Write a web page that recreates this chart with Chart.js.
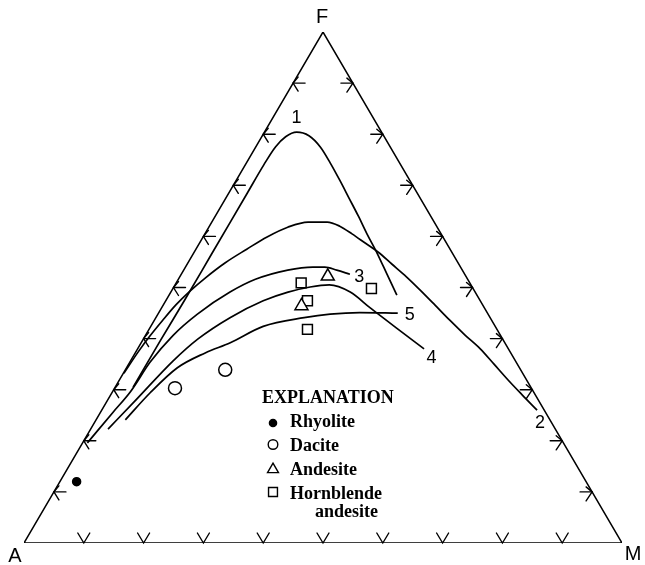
<!DOCTYPE html>
<html>
<head>
<meta charset="utf-8">
<script src="https://cdn.jsdelivr.net/npm/chart.js@4.4.1/dist/chart.umd.min.js"></script>
<style>
  html, body { margin: 0; padding: 0; background: #fff; }
  #afm { display: block; }
</style>
</head>
<body>
<canvas id="afm" width="645" height="565"></canvas>
<script>
// AFM diagram. Every composition is written as [F, M] in percent; A = 100 - F - M.

const vertexLabels = ['A', 'F', 'M'];
const gridSteps = [10, 20, 30, 40, 50, 60, 70, 80, 90];

// Differentiation trends
const trend1 = [[30.5,3.0],[39.7,3.0],[47.6,3.1],[56.4,3.1],[62.8,3.1],[68.5,3.1],[74.0,3.1],[77.5,3.3],[79.5,4.0],[80.4,5.4],[79.7,7.8],[77.5,10.8],[74.4,14.0],[71.0,17.3],[67.5,20.6],[64.0,23.9],[60.5,27.1],[56.6,30.8],[52.6,34.4],[48.5,38.1]];
const trend2 = [[33.2,0.1],[37.4,0.4],[40.5,0.8],[43.6,1.4],[46.6,2.1],[49.3,3.1],[51.9,4.4],[54.8,6.2],[57.5,8.5],[59.9,10.7],[61.8,13.2],[62.8,16.1],[62.8,19.3],[62.0,21.8],[60.5,24.6],[58.7,27.7],[56.9,30.8],[54.6,34.2],[52.1,37.9],[49.5,41.5],[46.6,45.4],[43.6,49.4],[40.7,53.4],[38.0,57.3],[35.0,61.1],[31.9,65.0],[29.0,68.8],[26.0,72.8]];
const trend3 = [[19.6,0.8],[25.6,2.1],[29.6,3.0],[35.4,3.4],[40.6,4.6],[44.8,6.6],[49.1,9.9],[51.6,12.9],[53.4,17.4],[54.0,21.3],[54.0,23.3],[53.4,25.6],[52.6,28.2]];
const trend4 = [[22.3,2.9],[27.9,4.7],[35.6,7.1],[39.9,9.1],[44.1,12.4],[47.4,16.3],[49.1,19.6],[50.1,22.8],[50.5,25.8],[49.1,30.0],[46.0,34.9],[42.1,41.2],[38.0,47.9]];
const trend5 = [[24.1,4.9],[29.4,6.4],[34.3,8.5],[37.2,11.7],[39.2,14.9],[42.4,18.8],[44.1,24.8],[44.8,28.8],[45.1,33.6],[45.0,40.0]];
const trendNames = ['1', '2', '3', '4', '5'];

// Analysed samples
const rhyolite = [[12.0, 2.8]];
const dacite = [[30.3, 10.1], [33.9, 16.7]];
const andesite = [[52.2, 24.7], [46.4, 23.2]];
const hornblendeAndesite = [[50.9, 20.9], [49.8, 33.2], [47.4, 23.7], [41.8, 26.5]];
const legendLabels = ['Rhyolite', 'Dacite', 'Andesite', 'Hornblende', 'andesite'];

// Where each trend number is written, as [F, M]
const trendLabelAt = [[83.1, 4.0], [23.4, 74.6], [52.1, 30.0], [36.1, 50.1], [44.6, 42.2]];

const H = Math.sqrt(3) / 2;
const toXY = ([F, M]) => ({ x: M + F / 2, y: F * H });

const outline = [[0, 0], [0, 100], [100, 0], [0, 0]].map(toXY);

const curve = (pts) => ({
  data: pts.map(toXY), showLine: true, borderColor: '#000', borderWidth: 1.7,
  pointRadius: 0, cubicInterpolationMode: 'monotone', fill: false, order: 5
});
const markers = (pts, style, radius, fill) => ({
  data: pts.map(toXY), showLine: false, pointStyle: style, pointRadius: radius,
  pointBackgroundColor: fill, pointBorderColor: '#000', pointBorderWidth: 1.5, order: 1
});

function drawMarker(ctx, style, x, y, r, fill) {
  ctx.beginPath();
  if (style === 'circle') {
    ctx.arc(x, y, r, 0, Math.PI * 2);
  } else if (style === 'triangle') {
    ctx.moveTo(x, y - r);
    ctx.lineTo(x + r * H, y + r / 2);
    ctx.lineTo(x - r * H, y + r / 2);
    ctx.closePath();
  } else {
    const s = r * Math.SQRT1_2;
    ctx.rect(x - s, y - s, 2 * s, 2 * s);
  }
  ctx.fillStyle = fill;
  ctx.fill();
  ctx.stroke();
}

const ternaryFrame = {
  id: 'ternaryFrame',
  afterDatasetsDraw(chart) {
    const { ctx, chartArea: ca, scales: { x, y } } = chart;
    const px = (pt) => { const p = toXY(pt); return [x.getPixelForValue(p.x), y.getPixelForValue(p.y)]; };
    ctx.save();
    ctx.strokeStyle = '#000';
    ctx.lineWidth = 1.4;
    ctx.lineCap = 'round';

    const seg = (pts) => { ctx.beginPath(); ctx.moveTo(pts[0][0], pts[0][1]); for (let i = 1; i < pts.length; i++) ctx.lineTo(pts[i][0], pts[i][1]); ctx.stroke(); };

    gridSteps.forEach((t) => {
      // A-F side: arrow pointing outwards to the left
      let [a, b] = px([t, 0]);
      seg([[a + 12, b], [a, b]]);
      seg([[a + 5, b - 6], [a, b], [a + 5, b + 8]]);
      // F-M side: arrow pointing outwards to the right
      [a, b] = px([100 - t, t]);
      seg([[a - 12, b], [a, b]]);
      seg([[a - 6, b - 5], [a, b], [a - 6, b + 9]]);
      // A-M base: downward V
      [a, b] = px([0, t]);
      seg([[a - 6, b - 10], [a, b], [a + 6, b - 10]]);
    });

    ctx.fillStyle = '#000';
    ctx.textAlign = 'center';
    ctx.textBaseline = 'middle';
    ctx.font = '20px "Liberation Sans", Arial, sans-serif';
    const [ax, ay] = px([0, 0]);
    const [fx, fy] = px([100, 0]);
    const [mx, my] = px([0, 100]);
    ctx.fillText(vertexLabels[0], ax - 9, ay + 13);
    ctx.fillText(vertexLabels[1], fx - 1, fy - 15);
    ctx.fillText(vertexLabels[2], mx + 11, my + 11);

    ctx.font = '18px "Liberation Sans", Arial, sans-serif';
    trendLabelAt.forEach((pt, i) => {
      const [lx, ly] = px(pt);
      ctx.fillText(trendNames[i], lx, ly);
    });

    // Explanation box
    const lx = ca.left + 238, ly = ca.top + 371;
    ctx.textAlign = 'left';
    ctx.textBaseline = 'alphabetic';
    ctx.font = 'bold 18px "Liberation Serif", "Times New Roman", serif';
    ctx.fillText('EXPLANATION', lx, ly);
    const rows = [24, 48, 71.5, 95.5];
    ctx.fillText(legendLabels[0], lx + 28, ly + rows[0]);
    ctx.fillText(legendLabels[1], lx + 28, ly + rows[1]);
    ctx.fillText(legendLabels[2], lx + 28, ly + rows[2]);
    ctx.fillText(legendLabels[3], lx + 28, ly + rows[3]);
    ctx.fillText(legendLabels[4], lx + 53, ly + rows[3] + 18.5);
    ctx.lineWidth = 1.4;
    drawMarker(ctx, 'circle', lx + 11, ly + rows[0] - 4, 3.6, '#000');
    drawMarker(ctx, 'circle', lx + 11, ly + rows[1] - 6.5, 4.8, '#fff');
    drawMarker(ctx, 'triangle', lx + 11, ly + rows[2] - 5, 6.3, '#fff');
    drawMarker(ctx, 'rect', lx + 11, ly + rows[3] - 6.5, 6.3, '#fff');
    ctx.restore();
  }
};

new Chart(document.getElementById('afm'), {
  type: 'scatter',
  data: {
    datasets: [
      markers(rhyolite, 'circle', 4, '#000'),
      markers(dacite, 'circle', 6.5, '#fff'),
      markers(andesite, 'triangle', 7.5, '#fff'),
      markers(hornblendeAndesite, 'rect', 7, '#fff'),
      curve(trend1), curve(trend2), curve(trend3), curve(trend4), curve(trend5),
      { data: outline, showLine: true, borderColor: '#000', borderWidth: 1.5, pointRadius: 0, tension: 0, order: 6 }
    ]
  },
  options: {
    responsive: false,
    animation: false,
    devicePixelRatio: 1,
    layout: { padding: { left: 24, right: 23, top: 32, bottom: 22 } },
    scales: {
      x: { type: 'linear', min: 0, max: 100, display: false },
      y: { type: 'linear', min: 0, max: 100 * H, display: false }
    },
    plugins: { legend: { display: false }, tooltip: { enabled: false } }
  },
  plugins: [ternaryFrame]
});
</script>
</body>
</html>
